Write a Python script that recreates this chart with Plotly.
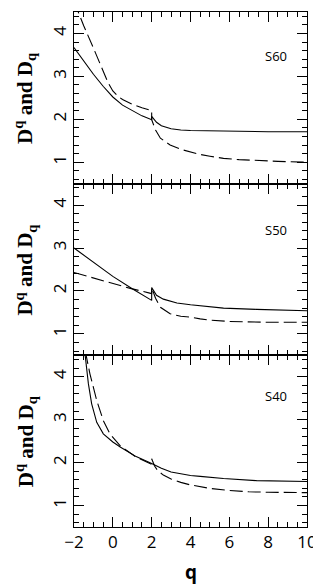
import plotly.graph_objects as go
from plotly.subplots import make_subplots

# ---------------- data ----------------
# S60 panel
s60_solid_q = [-2, -1.5, -1, -0.5, 0, 0.5, 1, 1.5, 2, 2, 2.25, 2.5, 3, 3.5, 4, 5, 6, 7, 8, 9, 10]
s60_solid_d = [3.67, 3.35, 3.05, 2.77, 2.52, 2.33, 2.20, 2.08, 1.99, 2.07, 1.93, 1.85, 1.78, 1.75, 1.74, 1.73, 1.72, 1.72, 1.71, 1.71, 1.71]
s60_dash_q = [-2, -1.75, -1.5, -1, -0.5, -0.25, 0, 0.25, 0.5, 1, 1.5, 2, 2, 2.2, 2.45, 2.95, 3.5, 4, 4.5, 5, 5.7, 6.5, 7.4, 8.5, 10]
s60_dash_d = [4.75, 4.45, 4.18, 3.66, 3.10, 2.86, 2.66, 2.54, 2.46, 2.35, 2.27, 2.20, 1.99, 1.75, 1.56, 1.40, 1.30, 1.24, 1.18, 1.14, 1.09, 1.06, 1.04, 1.02, 1.00]

# S50 panel
s50_solid_q = [-2, -1, 0, 1, 2, 2, 2.25, 2.6, 3.3, 4, 4.5, 5.7, 7.4, 10]
s50_solid_d = [3.00, 2.66, 2.34, 2.05, 1.78, 2.08, 1.90, 1.81, 1.72, 1.68, 1.66, 1.60, 1.57, 1.54]
s50_dash_q = [-2, -1, 0, 0.9, 1.9, 2, 2, 2.2, 2.45, 2.95, 3.5, 4, 4.5, 5, 6, 7, 8, 10]
s50_dash_d = [2.43, 2.30, 2.17, 2.06, 1.95, 1.94, 2.08, 1.83, 1.62, 1.47, 1.41, 1.39, 1.35, 1.32, 1.29, 1.28, 1.27, 1.27]

# S40 panel
s40_solid_q = [-1.45, -1.26, -1.09, -0.83, -0.49, 0, 0.4, 1.2, 2, 2.5, 3, 4, 4.5, 5.7, 7.4, 10]
s40_solid_d = [4.60, 3.84, 3.37, 2.94, 2.67, 2.48, 2.36, 2.14, 1.98, 1.87, 1.78, 1.70, 1.68, 1.63, 1.58, 1.56]
s40_dash_q = [-1.42, -1.18, -0.83, -0.49, -0.15, 0.4, 1.2, 1.95, 2, 2, 2.15, 2.3, 2.6, 3, 3.5, 4, 4.5, 5, 6, 7, 8, 10]
s40_dash_d = [4.60, 4.07, 3.45, 2.98, 2.67, 2.38, 2.13, 1.97, 1.96, 2.09, 1.92, 1.82, 1.71, 1.62, 1.54, 1.48, 1.44, 1.40, 1.35, 1.32, 1.31, 1.30]

panel_labels = ["S60", "S50", "S40"]
label_q = [8.4, 8.4, 8.4]
label_d = [3.47, 3.42, 3.56]

y_title = "<b>D<sup>q</sup> and D<sub>q</sub></b>"
x_title = "<b>q</b>"

x_tick_start, x_tick_step = -2, 2
y_tick_step = 1

panels = [
    (s60_solid_q, s60_solid_d, s60_dash_q, s60_dash_d),
    (s50_solid_q, s50_solid_d, s50_dash_q, s50_dash_d),
    (s40_solid_q, s40_solid_d, s40_dash_q, s40_dash_d),
]

# ---------------- figure ----------------
fig = make_subplots(rows=3, cols=1, shared_xaxes=True, vertical_spacing=0)

panel_centers = [5 / 6, 0.5, 1 / 6]
for i, (sq, sd, dq, dd) in enumerate(panels, start=1):
    fig.add_trace(go.Scatter(x=sq, y=sd, mode="lines",
                             line=dict(color="black", width=1.1),
                             showlegend=False), row=i, col=1)
    fig.add_trace(go.Scatter(x=dq, y=dd, mode="lines",
                             line=dict(color="black", width=1.1, dash="13px,5px"),
                             showlegend=False), row=i, col=1)
    fig.add_annotation(x=label_q[i - 1], y=label_d[i - 1], xref=f"x{'' if i == 1 else i}",
                       yref=f"y{'' if i == 1 else i}", text=panel_labels[i - 1],
                       showarrow=False, font=dict(size=13, color="black"))
    # y-axis title for each panel
    fig.add_annotation(x=-0.21, y=panel_centers[i - 1], xref="paper", yref="paper",
                       text=y_title, textangle=-90, showarrow=False,
                       xanchor="center", yanchor="middle",
                       font=dict(family="Liberation Serif", size=21, color="black"))

fig.add_annotation(x=0.5, y=-0.087, xref="paper", yref="paper", text=x_title,
                   showarrow=False, xanchor="center", yanchor="middle",
                   font=dict(size=19, color="black"))

tickfont = dict(size=17, color="black")

for i in range(1, 4):
    fig.update_xaxes(row=i, col=1, range=[-2, 10], tick0=x_tick_start, dtick=x_tick_step,
                     ticks="inside", ticklen=10, tickcolor="black",
                     minor=dict(dtick=0.5, ticks="inside", ticklen=5, tickcolor="black"),
                     showline=True, linecolor="black", mirror="ticks",
                     showgrid=False, zeroline=False, tickfont=tickfont)
    fig.update_yaxes(row=i, col=1, range=[0.5, 4.5], dtick=y_tick_step,
                     ticks="inside", ticklen=10, tickcolor="black",
                     minor=dict(dtick=0.2, ticks="inside", ticklen=5, tickcolor="black"),
                     showline=True, linecolor="black", mirror="ticks",
                     showgrid=False, zeroline=False, tickfont=tickfont, tickangle=-90)

fig.update_layout(width=313, height=578,
                  margin=dict(l=66, r=14, t=4, b=59),
                  paper_bgcolor="white", plot_bgcolor="white",
                  showlegend=False)

fig.write_html("out.html")
